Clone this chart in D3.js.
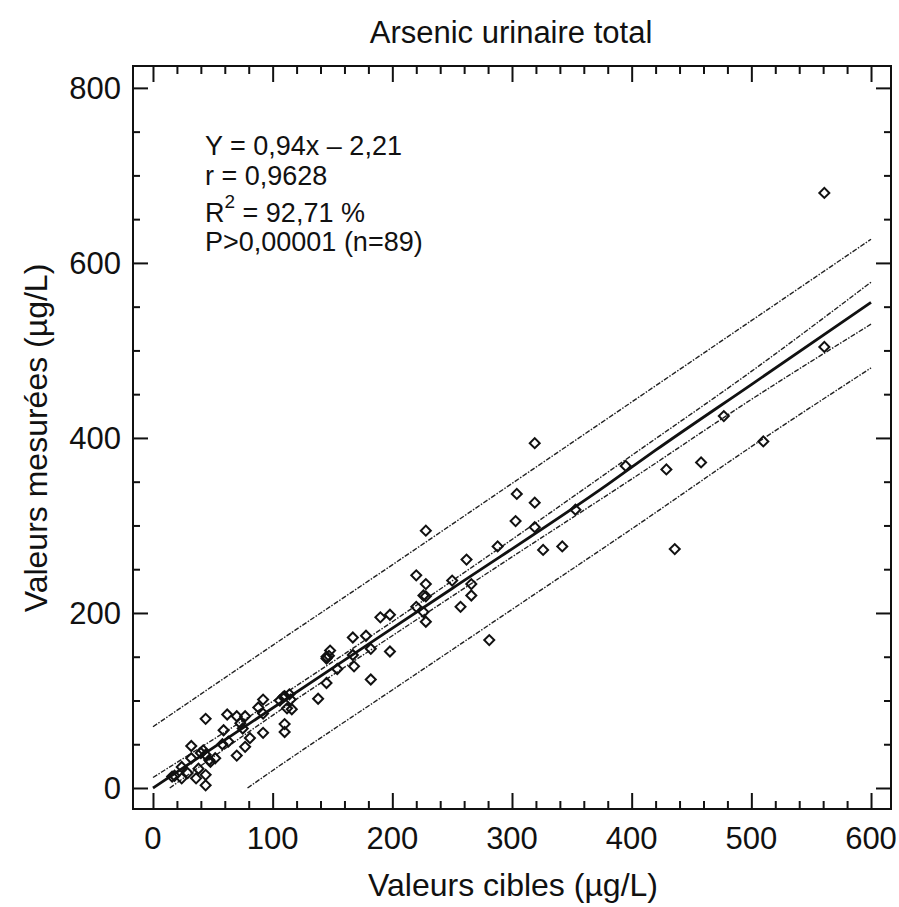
<!DOCTYPE html>
<html>
<head>
<meta charset="utf-8">
<script src="https://cdn.jsdelivr.net/npm/d3@7"></script>
<style>
  body { margin: 0; background: #fff; }
  text { font-family: "Liberation Sans", Arial, sans-serif; fill: #111; }
</style>
</head>
<body>
<svg id="chart"></svg>
<script>
const targetValues = [561, 561, 510, 477, 458, 429, 436, 395, 353, 342, 326, 319, 319, 319, 304, 303, 288, 281,
  266, 266, 262, 257, 250, 228, 228, 228, 228, 226, 220, 220, 198, 190, 198, 182, 182, 178, 167, 167, 168,
  154, 148, 145, 147, 145, 138, 116, 112, 110, 114, 109, 115, 110, 110, 92, 92, 92, 77, 70, 62, 44, 73, 75,
  59, 81, 77, 63, 70, 32, 32, 42, 44, 48, 52, 24, 16, 24, 38, 36, 44, 44, 29, 18, 40, 58, 106, 88, 145, 226, 47];
const measuredValues = [680, 504, 396, 425, 372, 364, 273, 368, 318, 276, 272, 394, 326, 298, 336, 305, 276, 169,
  233, 220, 261, 207, 237, 294, 233, 219, 190, 201, 243, 207, 198, 195, 156, 159, 124, 174, 172, 152, 139,
  136, 157, 148, 151, 120, 102, 90, 91, 105, 107, 104, 101, 73, 64, 101, 85, 63, 82, 82, 84, 79, 74, 68,
  66, 57, 47, 53, 37, 48, 34, 43, 38, 30, 34, 24, 13, 11, 22, 11, 15, 3, 17, 14, 40, 50, 100, 92, 150, 220, 32];

// regression line and bands (x, y pairs)
const fitX = [0, 150, 250, 380, 420, 500, 600];
const fitY = [0, 137, 228, 347, 386, 461, 555];
const innerUpX = [0, 100, 200, 300, 400, 500, 600];
const innerUpY = [12, 99, 190, 284, 380, 476, 578];
const innerLowX = [14, 100, 200, 300, 400, 500, 600];
const innerLowY = [0, 83, 174, 264, 353, 444, 530];
const outerUpX = [0, 100, 200, 300, 400, 500, 600];
const outerUpY = [70, 163, 255, 348, 441, 534, 627];
const outerLowX = [79, 100, 200, 300, 400, 500, 600];
const outerLowY = [0, 20, 112, 204, 296, 390, 480];

const xTickValues = [0, 100, 200, 300, 400, 500, 600];
const yTickValues = [0, 200, 400, 600, 800];
const statLines = ["Y = 0,94x – 2,21", "r = 0,9628", "R2", "P>0,00001 (n=89)"];

const W = 899, H = 907;
const frame = { left: 133, right: 891, top: 66, bottom: 809 };

const svg = d3.select("#chart").attr("width", W).attr("height", H);

const x = d3.scaleLinear().domain([-16.7, 616.7]).range([frame.left, frame.right]);
const y = d3.scaleLinear().domain([-24, 825]).range([frame.bottom, frame.top]);

svg.append("defs").append("clipPath").attr("id", "plotClip")
  .append("rect")
    .attr("x", frame.left).attr("y", frame.top)
    .attr("width", frame.right - frame.left).attr("height", frame.bottom - frame.top);

// title
svg.append("text")
    .attr("x", 511).attr("y", 43)
    .attr("text-anchor", "middle")
    .style("font-size", "31px")
    .text("Arsenic urinaire total");

// axes: inward ticks on all four sides
const minorX = d3.range(0, 620, 20).filter(v => v % 100 !== 0);
const minorY = d3.range(0, 825, 50).filter(v => v % 200 !== 0);

function styleAxis(g) {
  g.select(".domain").remove();
  g.selectAll("line").attr("stroke", "#111").attr("stroke-width", 2);
}

svg.append("g").attr("transform", `translate(0,${frame.bottom})`)
  .call(d3.axisTop(x).tickValues(xTickValues).tickSize(16).tickFormat(""))
  .call(styleAxis);
svg.append("g").attr("transform", `translate(0,${frame.bottom})`)
  .call(d3.axisTop(x).tickValues(minorX).tickSize(8).tickFormat(""))
  .call(styleAxis);
svg.append("g").attr("transform", `translate(0,${frame.top})`)
  .call(d3.axisBottom(x).tickValues(xTickValues).tickSize(16).tickFormat(""))
  .call(styleAxis);
svg.append("g").attr("transform", `translate(0,${frame.top})`)
  .call(d3.axisBottom(x).tickValues(minorX).tickSize(8).tickFormat(""))
  .call(styleAxis);

svg.append("g").attr("transform", `translate(${frame.left},0)`)
  .call(d3.axisRight(y).tickValues(yTickValues).tickSize(15).tickFormat(""))
  .call(styleAxis);
svg.append("g").attr("transform", `translate(${frame.left},0)`)
  .call(d3.axisRight(y).tickValues(minorY).tickSize(7).tickFormat(""))
  .call(styleAxis);
svg.append("g").attr("transform", `translate(${frame.right},0)`)
  .call(d3.axisLeft(y).tickValues(yTickValues).tickSize(15).tickFormat(""))
  .call(styleAxis);
svg.append("g").attr("transform", `translate(${frame.right},0)`)
  .call(d3.axisLeft(y).tickValues(minorY).tickSize(7).tickFormat(""))
  .call(styleAxis);

// tick labels
svg.append("g").selectAll("text")
  .data(xTickValues)
  .join("text")
    .attr("x", d => x(d)).attr("y", 849)
    .attr("text-anchor", "middle")
    .style("font-size", "31px")
    .text(d => d);

svg.append("g").selectAll("text")
  .data(yTickValues)
  .join("text")
    .attr("x", 121).attr("y", d => y(d) + 11)
    .attr("text-anchor", "end")
    .style("font-size", "31px")
    .text(d => d);

// axis titles
svg.append("text")
    .attr("x", 513).attr("y", 896)
    .attr("text-anchor", "middle")
    .style("font-size", "32px")
    .text("Valeurs cibles (µg/L)");

svg.append("text")
    .attr("transform", "translate(47,438) rotate(-90)")
    .attr("text-anchor", "middle")
    .style("font-size", "32px")
    .text("Valeurs mesurées (µg/L)");

// frame
svg.append("rect")
    .attr("x", frame.left).attr("y", frame.top)
    .attr("width", frame.right - frame.left).attr("height", frame.bottom - frame.top)
    .attr("fill", "none").attr("stroke", "#111").attr("stroke-width", 2);

// lines
const plot = svg.append("g").attr("clip-path", "url(#plotClip)");
const line = d3.line().x(d => x(d[0])).y(d => y(d[1])).curve(d3.curveMonotoneX);

const bands = [
  [innerUpX, innerUpY], [innerLowX, innerLowY],
  [outerUpX, outerUpY], [outerLowX, outerLowY]
];
plot.selectAll("path.band")
  .data(bands)
  .join("path")
    .attr("class", "band")
    .attr("d", b => line(d3.zip(b[0], b[1])))
    .attr("fill", "none")
    .attr("stroke", "#222")
    .attr("stroke-width", 1.4)
    .attr("stroke-dasharray", "5,1.5,1.5,1.5");

plot.append("path")
    .attr("d", line(d3.zip(fitX, fitY)))
    .attr("fill", "none")
    .attr("stroke", "#111")
    .attr("stroke-width", 2.8);

// points
const diamond = d3.symbol().type(d3.symbolSquare).size(50);
plot.selectAll("path.pt")
  .data(d3.zip(targetValues, measuredValues))
  .join("path")
    .attr("class", "pt")
    .attr("d", diamond)
    .attr("transform", d => `translate(${x(d[0])},${y(d[1])}) rotate(45)`)
    .attr("fill", "none")
    .attr("stroke", "#111")
    .attr("stroke-width", 2);

// regression stats
const stats = svg.append("g").style("font-size", "27px");
const baselines = [155, 185, 222, 251];
statLines.forEach((s, i) => {
  const t = stats.append("text").attr("x", 205).attr("y", baselines[i]);
  if (s === "R2") {
    t.append("tspan").text("R");
    t.append("tspan").attr("dy", -14).style("font-size", "19px").text("2");
    t.append("tspan").attr("dy", 14).text(" = 92,71 %");
  } else {
    t.text(s);
  }
});
</script>
</body>
</html>
